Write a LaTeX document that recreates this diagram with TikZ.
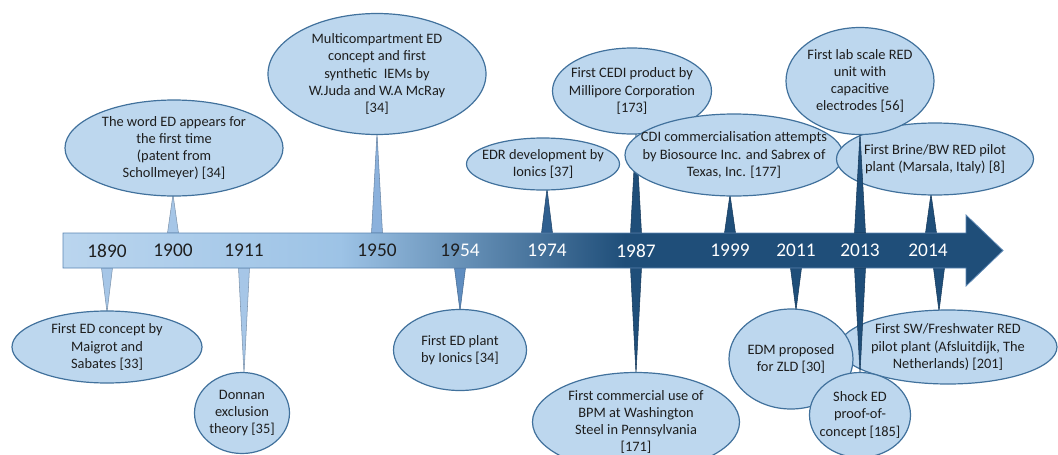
\documentclass[tikz,border=0pt]{standalone}
\usepackage{fontspec}
\setmainfont{Carlito}
\usetikzlibrary{shapes.geometric, calc}
\definecolor{ellfill}{HTML}{BDD7EE}
\definecolor{ellline}{HTML}{41719C}
\definecolor{barA}{HTML}{BAD5EE}
\definecolor{barB}{HTML}{9DC3E6}
\definecolor{barC}{HTML}{1F4E79}
\definecolor{barline}{HTML}{5B86B3}
\definecolor{ink}{HTML}{1E1E1E}
\definecolor{spkA}{HTML}{A6C6E7}
\definecolor{spkB}{HTML}{8BB1DC}
\definecolor{spkC}{HTML}{5F8DC0}
\definecolor{spkD}{HTML}{2F5F8F}
\pgfdeclarehorizontalshading{timeline}{100bp}{color(0bp)=(barA); color(25bp)=(barA); color(39.75bp)=(barB); color(54.9bp)=(barC); color(100bp)=(barC)}
\pgfdeclarelayer{spikes}
\pgfdeclarelayer{mid}
\pgfdeclarelayer{front}
\pgfsetlayers{spikes,main,mid,front}
\tikzset{%
   callout/.style 2 args={ellipse, draw=ellline, fill=ellfill, line width=0.9pt, inner sep=0pt,
      minimum width={#1*0.75pt}, minimum height={#2*0.75pt}},
   ctext/.style={align=center, text=ink, font=\fontsize{10.8}{12.9}\selectfont, inner sep=0pt},
   year/.style={font=\fontsize{14.5}{16}\selectfont, text=ink, inner sep=0pt},
   spike/.style={fill=#1, draw=#1!75!black, line width=0.4pt},
}

\begin{document}
\begin{tikzpicture}[x=0.75pt, y=-0.75pt]
   \useasboundingbox (0,0) rectangle (1058,454);
   % timeline arrow
   \path[shade, shading=timeline, draw=barline, line width=0.6pt]
      (63,233) -- (966,233) -- (966,215) -- (1003,250.5) -- (966,286) -- (966,268) -- (63,268) -- cycle;
   % years
   \foreach \yr/\x in {1890/107, 1900/173, 1911/244, 1950/377}
      \node[year] (y\yr) at (\x,250.5) {\yr};
   \node[year] (y1954) at (460,250.5) {19\textcolor{white}{54}};
   \foreach \yr/\x in {1974/547, 1987/636, 1999/730, 2011/796, 2013/860, 2014/928}
      \node[year, text=white] (y\yr) at (\x,250.5) {\yr};
   % callouts above
   \node[callout={218}{96}] (wordED) at (174,148) {};
   \node[ctext] (wordED-t) at (wordED) {The word ED appears for\\the first time\\(patent from\\Schollmeyer) [34]};
   \node[callout={218}{121}] (multi) at (377,74) {};
   \node[ctext] (multi-t) at (multi) {Multicompartment ED\\concept and first\\synthetic\ \ IEMs by\\W.Juda and W.A McRay\\{[34]}};
   \node[callout={153}{52}] (edr) at (543,164) {};
   \node[ctext] (edr-t) at (edr) {EDR development by\\Ionics [37]};
   \node[callout={159}{86}] (cedi) at (632,91) {};
   \node[ctext] (cedi-t) at (cedi) {First CEDI product by\\Millipore Corporation\\{[173]}};
   \node[callout={218}{82}] (cdi) at (734,155) {};
   \node[ctext] (cdi-t) at (cdi) {CDI commercialisation attempts\\by Biosource Inc. and Sabrex of\\Texas, Inc. [177]};
   \node[callout={197}{72}] (brine) at (935,159) {};
   \node[ctext] (brine-t) at (brine) {First Brine/BW RED pilot\\plant (Marsala, Italy) [8]};
   % callouts below
   \node[callout={190}{72}] (maigrot) at (107,347) {};
   \node[ctext] (maigrot-t) at (maigrot) {First ED concept by\\Maigrot and\\Sabates [33]};
   \node[callout={95}{81}] (donnan) at (242,413) {};
   \node[ctext] (donnan-t) at (donnan) {Donnan\\exclusion\\theory [35]};
   \node[callout={133}{81}] (plant) at (460,350) {};
   \node[ctext] (plant-t) at (plant) {First ED plant\\by Ionics [34]};
   \node[callout={207}{99}] (bpm) at (636,422) {};
   \node[ctext] (bpm-t) at (bpm) {First commercial use of\\BPM at Washington\\Steel in Pennsylvania\\{[171]}};
   \node[callout={218}{74}] (sw) at (948,347) {};
   \node[ctext] (sw-t) at (sw) {First SW/Freshwater RED\\pilot plant (Afsluitdijk, The\\Netherlands) [201]};
   \node[callout={124}{100}] (edm) at (791,359) {};
   \node[ctext] (edm-t) at (edm) {EDM proposed\\for ZLD [30]};
   \begin{pgfonlayer}{front}
      \node[callout={148}{107}] (labRED) at (860,81) {};
      \node[ctext] (labRED-t) at (labRED) {First lab scale RED\\unit with\\capacitive\\electrodes [56]};
      \node[callout={101}{85}] (shock) at (860,415) {};
      \node[ctext] (shock-t) at (shock) {Shock ED\\proof-of-\\concept [185]};
   \end{pgfonlayer}
   % spikes
   \begin{pgfonlayer}{spikes}
      \foreach \x/\c/\t in {173/spkA/wordED, 377/spkB/multi, 547/spkD/edr, 636/barC/cedi, 730/barC/cdi, 931/barC/brine}
         \filldraw[spike=\c] ({\x-5.5},233) -- ({\x+5.5},233) -- ([yshift=1.5pt]\x,0 |- \t.south) -- cycle;
      \foreach \x/\c/\t in {107/spkA/maigrot, 244/spkA/donnan, 460/spkC/plant, 636/barC/bpm, 796/barC/edm, 939/barC/sw}
         \filldraw[spike=\c] ({\x-5.5},268) -- ({\x+5.5},268) -- ([yshift=-1.5pt]\x,0 |- \t.north) -- cycle;
   \end{pgfonlayer}
   \begin{pgfonlayer}{mid}
      \filldraw[spike=barC] (854.5,233) -- (865.5,233) -- ([yshift=1.5pt]860,0 |- labRED.south) -- cycle;
      \filldraw[spike=barC] (854.5,268) -- (865.5,268) -- ([yshift=-1.5pt]860,0 |- shock.north) -- cycle;
   \end{pgfonlayer}
\end{tikzpicture}
\end{document}
